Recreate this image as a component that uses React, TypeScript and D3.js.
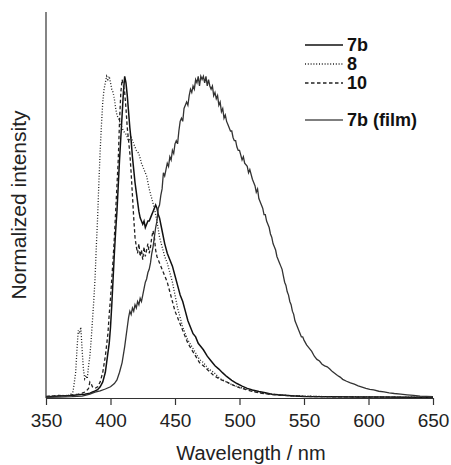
import React, { useEffect, useRef } from "react";
import * as d3 from "d3";

// wavelength (nm), normalized intensity
const s7b: [number, number][] = [
  [350, 0.004], [355, 0.005], [360, 0.006], [365, 0.007], [370, 0.008], [375, 0.01], [380, 0.012],
  [384, 0.015], [387, 0.02], [390, 0.026], [392, 0.035], [394, 0.05], [396, 0.08], [397, 0.11],
  [398, 0.14], [399, 0.17], [400, 0.22], [401, 0.29], [402, 0.37], [403, 0.45], [404, 0.52],
  [405, 0.58], [406, 0.66], [407, 0.74], [408, 0.81], [409, 0.88], [410, 0.95], [411, 1.0],
  [412, 0.98], [413, 0.94], [414, 0.89], [415, 0.84], [416, 0.8], [417, 0.75], [418, 0.71],
  [419, 0.67], [420, 0.64], [421, 0.61], [422, 0.58], [423, 0.56], [424, 0.55], [425, 0.54],
  [426, 0.55], [427, 0.53], [428, 0.54], [429, 0.55], [430, 0.55], [431, 0.56], [432, 0.57],
  [433, 0.58], [434, 0.59], [435, 0.6], [436, 0.59], [437, 0.57], [438, 0.56], [440, 0.52],
  [442, 0.48], [444, 0.45], [446, 0.43], [448, 0.41], [450, 0.38], [452, 0.35], [454, 0.32],
  [456, 0.3], [458, 0.27], [460, 0.24], [462, 0.22], [464, 0.2], [466, 0.19], [468, 0.17],
  [470, 0.16], [472, 0.15], [475, 0.13], [478, 0.115], [481, 0.1], [484, 0.09], [487, 0.078],
  [490, 0.067], [494, 0.055], [498, 0.045], [502, 0.037], [506, 0.03], [510, 0.025], [515, 0.02],
  [520, 0.016], [525, 0.012], [530, 0.01], [540, 0.007], [550, 0.005], [570, 0.004], [590, 0.003],
  [610, 0.003], [630, 0.002], [650, 0.002],
];

const s8: [number, number][] = [
  [350, 0.004], [354, 0.006], [358, 0.005], [362, 0.008], [366, 0.007], [369, 0.01], [371, 0.02],
  [373, 0.08], [374, 0.15], [375, 0.21], [376, 0.2], [377, 0.22], [378, 0.15], [379, 0.09],
  [380, 0.06], [381, 0.07], [382, 0.06], [383, 0.1], [384, 0.13], [385, 0.18], [386, 0.24],
  [387, 0.3], [388, 0.37], [389, 0.47], [390, 0.56], [391, 0.67], [392, 0.77], [393, 0.85],
  [394, 0.92], [395, 0.96], [396, 0.98], [397, 1.0], [398, 0.99], [399, 1.0], [400, 0.98],
  [401, 0.96], [402, 0.95], [403, 0.93], [404, 0.9], [405, 0.88], [406, 0.87], [408, 0.85],
  [410, 0.83], [412, 0.82], [414, 0.8], [416, 0.81], [418, 0.79], [420, 0.77], [422, 0.76],
  [424, 0.73], [426, 0.71], [428, 0.69], [430, 0.65], [432, 0.62], [434, 0.59], [436, 0.55],
  [438, 0.5], [440, 0.47], [442, 0.44], [444, 0.42], [446, 0.39], [448, 0.36], [450, 0.32],
  [452, 0.28], [454, 0.25], [456, 0.22], [458, 0.2], [460, 0.18], [463, 0.16], [466, 0.14],
  [469, 0.12], [472, 0.11], [476, 0.09], [480, 0.08], [485, 0.06], [490, 0.05], [495, 0.04],
  [500, 0.033], [505, 0.028], [510, 0.022], [515, 0.017], [520, 0.014], [530, 0.01], [540, 0.007],
  [550, 0.006], [570, 0.004], [590, 0.004], [610, 0.003], [630, 0.003], [650, 0.002],
];

const s10: [number, number][] = [
  [350, 0.005], [355, 0.006], [360, 0.008], [365, 0.007], [370, 0.01], [375, 0.012], [378, 0.015],
  [381, 0.02], [383, 0.03], [384, 0.05], [385, 0.045], [386, 0.035], [388, 0.03], [390, 0.035],
  [392, 0.05], [394, 0.08], [396, 0.13], [398, 0.2], [399, 0.26], [400, 0.31], [401, 0.37],
  [402, 0.43], [403, 0.5], [404, 0.58], [405, 0.66], [406, 0.74], [407, 0.86], [408, 0.95],
  [409, 0.99], [410, 0.97], [411, 0.95], [412, 0.9], [413, 0.84], [414, 0.8], [415, 0.76],
  [416, 0.7], [417, 0.63], [418, 0.56], [419, 0.5], [420, 0.47], [421, 0.45], [422, 0.48],
  [423, 0.44], [424, 0.46], [425, 0.43], [426, 0.47], [427, 0.44], [428, 0.46], [429, 0.48],
  [430, 0.45], [431, 0.47], [432, 0.5], [433, 0.52], [434, 0.5], [435, 0.46], [436, 0.44],
  [438, 0.42], [440, 0.4], [442, 0.38], [444, 0.36], [446, 0.33], [448, 0.3], [450, 0.27],
  [452, 0.25], [454, 0.23], [456, 0.21], [458, 0.19], [460, 0.17], [463, 0.15], [466, 0.13],
  [469, 0.11], [472, 0.1], [476, 0.085], [480, 0.07], [485, 0.058], [490, 0.05], [495, 0.04],
  [500, 0.032], [505, 0.026], [510, 0.02], [515, 0.016], [520, 0.013], [530, 0.009], [540, 0.007],
  [550, 0.005], [570, 0.004], [590, 0.003], [610, 0.003], [630, 0.002], [650, 0.002],
];

const s7bFilm: [number, number][] = [
  [350, 0.002], [360, 0.003], [370, 0.004], [378, 0.006], [384, 0.012], [388, 0.018], [392, 0.022],
  [396, 0.028], [400, 0.035], [403, 0.045], [405, 0.056], [407, 0.08], [409, 0.11], [411, 0.16],
  [412, 0.19], [413, 0.22], [414, 0.25], [415, 0.27], [416, 0.26], [417, 0.28], [418, 0.27],
  [419, 0.29], [420, 0.28], [421, 0.3], [422, 0.29], [423, 0.31], [424, 0.3], [425, 0.32],
  [426, 0.34], [427, 0.36], [428, 0.37], [429, 0.39], [430, 0.4], [431, 0.42], [432, 0.45],
  [433, 0.47], [434, 0.5], [435, 0.53], [436, 0.55], [437, 0.59], [438, 0.6], [439, 0.63],
  [440, 0.65], [441, 0.7], [442, 0.69], [443, 0.71], [444, 0.73], [445, 0.72], [446, 0.75],
  [447, 0.74], [448, 0.77], [449, 0.76], [450, 0.79], [451, 0.8], [452, 0.79], [453, 0.83],
  [454, 0.86], [455, 0.87], [456, 0.86], [457, 0.9], [458, 0.91], [459, 0.92], [460, 0.91],
  [461, 0.94], [462, 0.96], [463, 0.95], [464, 0.97], [465, 0.96], [466, 0.99], [467, 0.98],
  [468, 1.0], [469, 0.97], [470, 1.0], [471, 0.99], [472, 1.0], [473, 0.98], [474, 1.0],
  [475, 0.97], [476, 0.99], [477, 0.97], [478, 0.96], [479, 0.97], [480, 0.94], [481, 0.95],
  [482, 0.93], [483, 0.94], [484, 0.91], [485, 0.92], [486, 0.89], [487, 0.9], [488, 0.87],
  [489, 0.88], [490, 0.86], [491, 0.85], [492, 0.84], [493, 0.83], [494, 0.83], [495, 0.81],
  [496, 0.8], [497, 0.8], [498, 0.78], [499, 0.77], [500, 0.77], [502, 0.74], [503, 0.75],
  [504, 0.73], [506, 0.72], [507, 0.7], [508, 0.71], [510, 0.68], [511, 0.67], [512, 0.66],
  [513, 0.64], [514, 0.65], [515, 0.62], [516, 0.61], [517, 0.6], [518, 0.59], [519, 0.57],
  [520, 0.57], [521, 0.55], [522, 0.54], [523, 0.53], [524, 0.51], [525, 0.5], [526, 0.48],
  [527, 0.47], [528, 0.46], [529, 0.44], [530, 0.43], [531, 0.42], [532, 0.41], [533, 0.4],
  [534, 0.38], [535, 0.36], [536, 0.35], [537, 0.33], [538, 0.32], [539, 0.3], [540, 0.29],
  [541, 0.27], [542, 0.26], [543, 0.24], [544, 0.23], [545, 0.22], [546, 0.21], [547, 0.2],
  [548, 0.19], [549, 0.19], [550, 0.18], [552, 0.165], [554, 0.155], [556, 0.145], [558, 0.13],
  [560, 0.12], [562, 0.115], [564, 0.105], [566, 0.1], [568, 0.097], [570, 0.09], [572, 0.082],
  [574, 0.076], [576, 0.07], [578, 0.065], [580, 0.058], [583, 0.052], [586, 0.047], [589, 0.043],
  [592, 0.038], [595, 0.034], [598, 0.03], [601, 0.027], [604, 0.025], [608, 0.021], [612, 0.019],
  [616, 0.016], [620, 0.014], [625, 0.012], [630, 0.01], [635, 0.008], [640, 0.006], [645, 0.005],
  [650, 0.004],
];

const xTicks = [350, 400, 450, 500, 550, 600, 650];
const legendLabels = ["7b", "8", "10", "7b (film)"];

const FONT = "'Liberation Sans', Arial, Helvetica, sans-serif";

const App = () => {
  const svgRef = useRef<SVGSVGElement>(null);

  useEffect(() => {
    const svg = d3.select(svgRef.current);
    svg.selectAll("*").remove();

    const x = d3.scaleLinear().domain([350, 650]).range([46, 433]);
    const y = d3.scaleLinear().domain([0, 1.2]).range([398, 12]);

    // series styles
    const series = [
      { data: s7b, stroke: "#111", width: 1.5, dash: null },
      { data: s8, stroke: "#222", width: 1.3, dash: "1,1.8" },
      { data: s10, stroke: "#222", width: 1.3, dash: "3.5,2.5" },
      { data: s7bFilm, stroke: "#333", width: 1.3, dash: null },
    ];

    const line = d3.line<[number, number]>()
      .x((d) => x(d[0]))
      .y((d) => y(d[1]));

    series.forEach((s) => {
      svg.append("path")
        .datum(s.data)
        .attr("fill", "none")
        .attr("stroke", s.stroke)
        .attr("stroke-width", s.width)
        .attr("stroke-dasharray", s.dash)
        .attr("d", line);
    });

    // x axis
    const xAxis = svg.append("g")
      .attr("transform", "translate(0,398)")
      .call(d3.axisBottom(x).tickValues(xTicks).tickSize(7).tickPadding(9).tickSizeOuter(0));
    xAxis.select(".domain").attr("stroke", "#333").attr("stroke-width", 1.2);
    xAxis.selectAll(".tick line").attr("stroke", "#333").attr("stroke-width", 1.2);
    xAxis.selectAll(".tick text")
      .attr("fill", "#222")
      .style("font-family", FONT)
      .style("font-size", "19px");

    // y axis line only
    svg.append("line")
      .attr("x1", 46).attr("x2", 46)
      .attr("y1", 12).attr("y2", 398)
      .attr("stroke", "#333")
      .attr("stroke-width", 1.2);

    svg.append("text")
      .attr("x", 251)
      .attr("y", 460)
      .attr("text-anchor", "middle")
      .attr("fill", "#222")
      .style("font-family", FONT)
      .style("font-size", "20px")
      .text("Wavelength / nm");

    svg.append("text")
      .attr("transform", "translate(26,205) rotate(-90)")
      .attr("text-anchor", "middle")
      .attr("fill", "#222")
      .style("font-family", FONT)
      .style("font-size", "21px")
      .text("Normalized intensity");

    // legend
    const legendY = [45, 64, 83, 120];
    legendLabels.forEach((lab, i) => {
      const s = series[i];
      svg.append("line")
        .attr("x1", 305).attr("x2", 343)
        .attr("y1", legendY[i]).attr("y2", legendY[i])
        .attr("stroke", i === 3 ? "#555" : s.stroke)
        .attr("stroke-width", s.width)
        .attr("stroke-dasharray", s.dash);
      svg.append("text")
        .attr("x", 347)
        .attr("y", legendY[i])
        .attr("dy", "0.36em")
        .attr("fill", "#111")
        .style("font-family", FONT)
        .style("font-size", "18px")
        .style("font-weight", "bold")
        .text(lab);
    });
  }, []);

  return (
    <svg
      ref={svgRef}
      width={451}
      height={465}
      style={{ position: "absolute", left: 0, top: 0, background: "#fff" }}
    />
  );
};

export default App;
